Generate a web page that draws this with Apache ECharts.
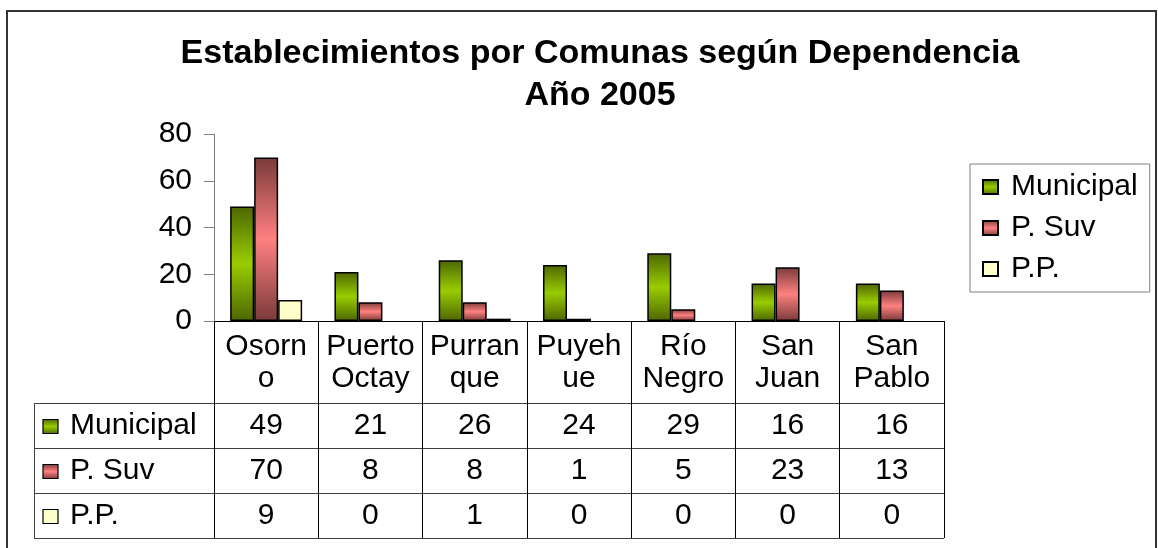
<!DOCTYPE html>
<html>
<head>
<meta charset="utf-8">
<title>Establecimientos por Comunas</title>
<script src="https://cdn.jsdelivr.net/npm/echarts@6/dist/echarts.min.js"></script>
<style>
  html, body { margin: 0; padding: 0; background: #fff; }
  #chart { width: 1158px; height: 548px; }
</style>
</head>
<body>
<div id="chart"></div>
<script>
// data (the data table gives the exact numbers)
const categories = ['Osorn\no', 'Puerto\nOctay', 'Purran\nque', 'Puyeh\nue', 'Río\nNegro', 'San\nJuan', 'San\nPablo'];
const seriesNames = ['Municipal', 'P. Suv', 'P.P.'];
const municipal = [49, 21, 26, 24, 29, 16, 16];
const pSuv = [70, 8, 8, 1, 5, 23, 13];
const pp = [9, 0, 1, 0, 0, 0, 0];

const FONT = '"Liberation Sans", Arial, sans-serif';
const FS = 30;

function vGrad(edge, mid) {
  return {
    type: 'linear', x: 0, y: 0, x2: 0, y2: 1,
    colorStops: [
      { offset: 0, color: edge },
      { offset: 0.5, color: mid },
      { offset: 1, color: edge },
    ],
  };
}
const fills = [vGrad('#4d6600', '#99cc00'), vGrad('#7a3a3a', '#ff8080'), '#ffffcc'];

const grid = { left: 214, right: 214, top: 134, bottom: 227 };
const headerH = 82;   // category label row of the data table
const rowH = 45;      // value rows
const tableLeft = 34;

const chart = echarts.init(document.getElementById('chart'));

const option = {
  animation: false,
  backgroundColor: '#fff',
  textStyle: { fontFamily: FONT },
  title: {
    text: 'Establecimientos por Comunas según Dependencia\nAño 2005',
    left: 595,
    top: 28,
    textAlign: 'center',
    textStyle: { fontFamily: FONT, fontSize: 34, fontWeight: 'bold', color: '#000', lineHeight: 42 },
  },
  legend: {
    orient: 'vertical',
    left: 970,
    top: 164,
    padding: [8, 12, 8, 12],
    borderColor: '#808080',
    borderWidth: 1,
    itemWidth: 15,
    itemHeight: 14,
    itemGap: 11,
    icon: 'rect',
    textStyle: { fontFamily: FONT, fontSize: FS, color: '#000', lineHeight: 30, padding: [0, 0, 0, 8] },
    data: seriesNames,
  },
  grid: grid,
  xAxis: {
    type: 'category',
    data: categories,
    axisLine: { lineStyle: { color: '#000', width: 1 } },
    axisTick: { show: true, length: headerH + rowH * 3, lineStyle: { color: '#000', width: 1 } },
    axisLabel: { interval: 0, color: '#000', fontFamily: FONT, fontSize: FS, lineHeight: 32, margin: 10 },
  },
  yAxis: {
    type: 'value',
    min: 0,
    max: 80,
    interval: 20,
    axisLine: { show: true, lineStyle: { color: '#808080' } },
    axisTick: { show: true, length: 10, lineStyle: { color: '#808080' } },
    axisLabel: { color: '#000', fontFamily: FONT, fontSize: FS, margin: 22 },
    splitLine: { show: false },
  },
  series: [municipal, pSuv, pp].map((vals, i) => ({
    name: seriesNames[i],
    type: 'bar',
    // zero values leave no visible mark in the reference, so drop their outline
    data: vals.map(v => (v === 0 ? { value: 0, itemStyle: { borderWidth: 0 } } : v)),
    barWidth: 24,
    barGap: '0%',
    itemStyle: { color: fills[i], borderColor: '#000', borderWidth: 1.5 },
  })),
};

chart.setOption(option);

// data table under the plot, placed from the axis' own category positions
const baseY = 548 - grid.bottom;
const tableRight = 1158 - grid.right;
const rowsTop = baseY + headerH;
const graphics = [];

// outer chart frame
graphics.push({
  type: 'rect',
  shape: { x: 7, y: 11, width: 1149, height: 600 },
  style: { fill: null, stroke: '#333', lineWidth: 2 },
  silent: true,
});

for (let r = 0; r <= 3; r++) {
  const y = Math.round(rowsTop + r * rowH) + 0.5;
  graphics.push({
    type: 'line',
    shape: { x1: tableLeft, y1: y, x2: tableRight, y2: y },
    style: { stroke: '#404040', lineWidth: 1 },
  });
}
graphics.push({
  type: 'line',
  shape: { x1: tableLeft + 0.5, y1: rowsTop, x2: tableLeft + 0.5, y2: rowsTop + rowH * 3 },
  style: { stroke: '#404040', lineWidth: 1 },
});

[municipal, pSuv, pp].forEach((vals, r) => {
  const cy = rowsTop + r * rowH + rowH / 2;
  graphics.push({
    type: 'rect',
    shape: { x: tableLeft + 9, y: cy - 6, width: 15, height: 14 },
    style: { fill: fills[r], stroke: '#000', lineWidth: 1.2 },
  });
  graphics.push({
    type: 'text',
    style: { text: seriesNames[r], x: tableLeft + 36, y: cy, verticalAlign: 'middle', font: FS + 'px ' + FONT, fill: '#000' },
  });
  vals.forEach((v, i) => {
    const cx = chart.convertToPixel({ xAxisIndex: 0 }, i);
    graphics.push({
      type: 'text',
      style: { text: String(v), x: cx, y: cy, align: 'center', verticalAlign: 'middle', font: FS + 'px ' + FONT, fill: '#000' },
    });
  });
});

chart.setOption({ graphic: graphics });
window.addEventListener('resize', () => chart.resize());
</script>
</body>
</html>
